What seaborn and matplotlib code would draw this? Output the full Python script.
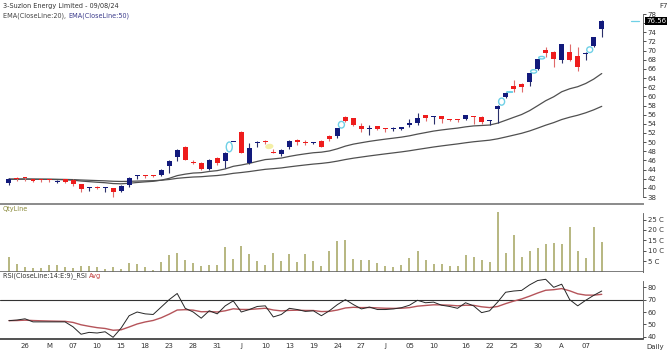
import numpy as np
import pandas as pd
import seaborn as sns
import matplotlib.pyplot as plt
from matplotlib.patches import Ellipse

# trading sessions shown (Apr 24 - Aug 9, 2024)
days_apr = [24, 25, 26, 29, 30]
days_may = [2, 3, 6, 7, 8, 9, 10, 13, 14, 15, 16, 17, 18, 21, 22, 23, 24, 27, 28, 29, 30, 31]
days_jun = [3, 4, 5, 6, 7, 10, 11, 12, 13, 14, 18, 19, 20, 21, 24, 25, 26, 27, 28]
days_jul = [1, 2, 3, 4, 5, 8, 9, 10, 11, 12, 15, 16, 18, 19, 22, 23, 24, 25, 26, 29, 30, 31]
days_aug = [1, 2, 5, 6, 7, 8, 9]

opens = [41.0, 42.0, 42.3, 41.9, 41.8, 41.8, 41.3, 41.9, 41.8, 40.8,
         40.0, 40.1, 40.05, 39.9, 39.4, 40.6, 42.7, 42.7, 42.7, 42.8,
         44.8, 46.7, 49.0, 45.6, 45.5, 44.1, 46.5, 45.9, 50.0, 52.3,
         45.4, 49.8, 50.1, 47.8, 47.5, 48.9, 50.5, 50.0, 49.8, 50.3,
         51.3, 51.3, 55.4, 55.2, 53.6, 52.9, 53.5, 53.0, 52.8, 52.9,
         53.7, 54.2, 55.9, 55.5, 55.7, 55.0, 55.0, 55.0, 55.6, 55.4,
         54.6, 57.2, 59.8, 62.3, 62.7, 63.2, 65.9, 70.1, 69.8, 67.9,
         69.8, 68.8, 69.2, 71.0, 74.7]
highs = [42.1, 42.4, 42.4, 42.0, 41.9, 41.9, 41.7, 42.0, 41.9, 40.9,
         40.2, 40.3, 40.2, 40.0, 40.6, 42.4, 42.9, 42.8, 42.9, 44.2,
         46.0, 48.5, 49.1, 46.1, 45.7, 46.2, 46.8, 47.9, 50.1, 52.4,
         49.9, 50.2, 50.4, 48.6, 48.6, 50.4, 50.6, 50.5, 50.1, 50.4,
         51.5, 53.1, 55.6, 55.3, 54.1, 53.7, 53.6, 53.1, 53.2, 53.4,
         55.1, 56.3, 56.0, 55.6, 55.8, 55.1, 55.1, 56.0, 55.7, 55.6,
         54.8, 58.1, 60.9, 63.6, 62.9, 65.1, 68.2, 70.85, 70.0, 71.5,
         71.4, 70.8, 69.6, 73.0, 76.6]
lows = [40.6, 41.6, 41.4, 41.3, 41.2, 41.2, 41.0, 41.1, 40.4, 39.2,
        39.3, 39.7, 39.2, 38.1, 39.2, 40.1, 42.0, 42.2, 42.4, 42.5,
        43.2, 45.8, 46.0, 45.2, 43.8, 43.9, 45.0, 44.3, 50.0, 47.6,
        45.3, 49.0, 49.5, 47.6, 47.0, 48.5, 49.4, 49.3, 49.5, 48.9,
        50.2, 51.0, 54.5, 53.5, 52.3, 51.6, 52.6, 52.3, 52.4, 52.7,
        53.3, 53.7, 54.7, 54.0, 54.1, 54.6, 54.5, 54.8, 54.0, 54.0,
        53.7, 54.1, 59.6, 61.0, 61.0, 62.3, 65.8, 68.7, 66.35, 67.2,
        67.7, 65.6, 67.9, 70.8, 72.9]
closes = [41.9, 41.9, 42.2, 41.6, 41.7, 41.7, 41.4, 41.3, 40.8, 39.7,
          40.1, 40.0, 40.1, 39.2, 40.4, 42.1, 42.8, 42.6, 42.6, 44.0,
          45.9, 48.3, 46.1, 45.5, 44.1, 46.1, 45.5, 47.7, 50.1, 47.7,
          48.7, 49.9, 50.0, 47.7, 48.3, 50.3, 50.1, 49.9, 49.9, 49.0,
          50.6, 53.0, 54.7, 53.7, 52.8, 53.0, 52.8, 52.9, 52.9, 53.2,
          54.1, 55.3, 55.2, 55.55, 55.0, 54.9, 54.9, 55.9, 55.5, 54.5,
          54.7, 58.0, 60.7, 61.5, 62.0, 65.0, 68.1, 69.4, 68.1, 71.4,
          67.9, 66.4, 69.5, 72.9, 76.56]

# traded quantity, crores
qty_cr = [6.9, 3.4, 2.4, 1.8, 1.8, 3.2, 3.2, 2.4, 1.8, 2.7,
          2.7, 2.1, 1.4, 2.4, 1.4, 4.3, 3.8, 2.2, 0.6, 4.5,
          8.0, 9.0, 5.3, 4.0, 2.6, 3.2, 3.2, 11.7, 6.2, 12.5,
          8.2, 5.0, 3.2, 9.0, 5.0, 8.6, 4.8, 8.5, 5.0, 2.6,
          9.9, 14.6, 15.0, 6.2, 5.3, 5.3, 4.0, 2.6, 2.4, 3.0,
          6.4, 9.9, 5.6, 3.4, 3.7, 2.7, 2.7, 7.7, 6.9, 5.3,
          4.8, 28.5, 9.1, 17.4, 6.9, 9.9, 11.5, 13.4, 13.6, 13.4,
          21.3, 10.1, 6.6, 21.6, 14.4]

rsi = [53, 53.5, 54.5, 52, 52, 52, 52, 52, 48, 42,
       43.5, 43, 44, 39.5, 47, 57, 60, 58.5, 58, 64,
       70, 75, 63, 60, 55, 61, 58.5, 65, 69, 60,
       62, 64.5, 65, 56, 58, 63, 62, 60.5, 61, 57,
       61, 66, 70, 66, 62.5, 64, 62, 62, 62.5, 63.5,
       65.5, 69.5, 67.5, 68, 65.5, 64.5, 63, 67.5, 65, 59.5,
       61, 68, 76, 77, 77.5, 82, 85.5, 86.5, 80, 82.5,
       70, 65, 69.5, 73.5, 77]

tick_labels = ["26", "M", "07", "10", "15", "18", "23", "28", "31", "J", "10", "13",
               "19", "24", "27", "J", "05", "10", "16", "22", "25", "30", "A", "07"]
tick_dates = ["2024-04-26", "2024-05-02", "2024-05-07", "2024-05-10", "2024-05-15",
              "2024-05-18", "2024-05-23", "2024-05-28", "2024-05-31", "2024-06-05",
              "2024-06-10", "2024-06-13", "2024-06-19", "2024-06-24", "2024-06-27",
              "2024-07-02", "2024-07-05", "2024-07-10", "2024-07-16", "2024-07-22",
              "2024-07-25", "2024-07-30", "2024-08-02", "2024-08-07"]

UP = "#121a7c"
DOWN = "#ee1c1c"
QTY = "#a3a35e"

sns.set_theme(style="white")
plt.rcParams['font.family'] = ['DejaVu Sans']

dates = pd.to_datetime(
    [f"2024-{m:02d}-{d:02d}" for m, days in
     ((4, days_apr), (5, days_may), (6, days_jun), (7, days_jul), (8, days_aug))
     for d in days])
df = pd.DataFrame({"date": dates, "open": opens, "high": highs, "low": lows,
                   "close": closes, "qty": qty_cr, "rsi": rsi})
df["i"] = np.arange(len(df))
df["ema20"] = df["close"].ewm(span=20, adjust=False).mean()
df["ema50"] = df["close"].ewm(span=50, adjust=False).mean()
df["rsi_avg"] = df["rsi"].ewm(span=9, adjust=False).mean()

W, H = 672, 352
fig = plt.figure(figsize=(W / 100, H / 100), dpi=100)


def panel(top, bottom):
    return fig.add_axes([0, 1 - bottom / H, 643 / W, (bottom - top) / H])


ax = panel(4, 204)
axv = panel(205, 271.5)
axr = panel(272, 339)

xlim = (-1.12, 79.15)
for a in (ax, axv, axr):
    a.set_xlim(*xlim)
    a.set_facecolor("white")
    for s in ("top", "left"):
        a.spines[s].set_visible(False)
    a.yaxis.tick_right()
    a.tick_params(axis="y", length=2.5, width=0.6, pad=1, labelsize=5,
                  colors="#333333", direction="out")
    a.spines["right"].set_color("#555555")
    a.spines["right"].set_linewidth(0.6)

# ---- price panel
for r in df.itertuples():
    c = UP if r.close >= r.open else DOWN
    wick = "#2a2f6a" if r.close >= r.open else "#e06a6a"
    ax.vlines(r.i, r.low, r.high, color=wick, lw=0.8, zorder=2)
    body = max(abs(r.close - r.open), 0.18)
    ax.bar(r.i, body, bottom=min(r.open, r.close), width=0.62, color=c,
           lw=0, zorder=3)

# gap markers
for k in range(len(df) - 1):
    h0, l1 = df["high"][k], df["low"][k + 1]
    l0, h1 = df["low"][k], df["high"][k + 1]
    if l1 > h0:
        ax.add_patch(Ellipse((k + 0.5, (h0 + l1) / 2), 0.75, l1 - h0 + 0.05,
                             fc="none", ec="#6fd0e6", lw=1.0, zorder=4))
    elif h1 < l0:
        ax.add_patch(Ellipse((k + 0.5, (l0 + h1) / 2), 1.0, l0 - h1 + 0.3,
                             angle=-20, fc="#f4efa6", ec="none", zorder=1))

sns.lineplot(data=df, x="i", y="ema20", ax=ax, color="#505050", lw=0.9, zorder=1)
sns.lineplot(data=df, x="i", y="ema50", ax=ax, color="#505050", lw=0.9, zorder=1)

price_ticks = np.arange(38, 79, 2)
last = df["close"].iloc[-1]
ax.set_ylim(36.47, 80.19)
ax.set_yticks(price_ticks)
# the last-price box covers the nearest tick label
ax.set_yticklabels(["" if abs(v - last) < 1 else f"{v}" for v in price_ticks])
ax.spines["right"].set_bounds(38, 78)
ax.spines["bottom"].set_color("#8a8a8a")
ax.spines["bottom"].set_linewidth(1.4)
ax.set_xticks([])
ax.set_xlabel("")
ax.set_ylabel("")

ax.plot([77.6, 78.6], [last, last], color="#6fd0e6", lw=0.9, clip_on=False)
ax.annotate(f"{last:.2f}", xy=(1.005, last), xycoords=("axes fraction", "data"),
            ha="left", va="center", fontsize=5, color="white", zorder=6,
            bbox=dict(boxstyle="square,pad=0.15", fc="black", ec="none"))

fig.text(3 / W, 1 - 6 / H, "3-Suzlon Energy Limited - 09/08/24", fontsize=4.7,
         color="#333333", va="center", ha="left")
t2 = fig.text(3 / W, 1 - 16 / H, "EMA(CloseLine:20), ", fontsize=4.7,
              color="#444444", va="center", ha="left")
ax.annotate("EMA(CloseLine:50)", xy=(1, 0.5), xycoords=t2, va="center", ha="left",
            fontsize=4.7, color="#3c3c8c")
fig.text(664 / W, 1 - 6 / H, "F7", fontsize=5, color="#333333", va="center", ha="center")

# ---- quantity panel
axv.vlines(df["i"], 0, df["qty"], color=QTY, lw=1.1)
axv.set_ylim(0, 32)
axv.set_yticks([5, 10, 15, 20, 25])
axv.set_yticklabels([f"{v} C" for v in [5, 10, 15, 20, 25]])
axv.spines["right"].set_bounds(0, 28)
axv.spines["bottom"].set_color("#666666")
axv.spines["bottom"].set_linewidth(1.2)
axv.set_xticks([])
fig.text(3 / W, 1 - 209 / H, "QtyLine", fontsize=4.7, color="#8c8c3c", va="center", ha="left")

# ---- RSI panel
axr.axhline(70, color="#333333", lw=0.8, zorder=1)
sns.lineplot(data=df, x="i", y="rsi_avg", ax=axr, color="#b5545a", lw=1.0, zorder=2)
sns.lineplot(data=df, x="i", y="rsi", ax=axr, color="#262626", lw=0.7, zorder=3)
axr.set_ylim(38.14, 92.4)
axr.set_yticks([40, 50, 60, 70, 80])
axr.spines["right"].set_bounds(38.6, 85)
axr.spines["bottom"].set_color("#333333")
axr.spines["bottom"].set_linewidth(1.2)
axr.set_ylabel("")
axr.set_xlabel("")
pos = [int(np.flatnonzero(df["date"] == pd.Timestamp(d))[0]) for d in tick_dates]
axr.set_xticks(pos)
axr.set_xticklabels(tick_labels)
axr.tick_params(axis="x", length=0, pad=3, labelsize=5, colors="#333333")
t3 = fig.text(3 / W, 1 - 276 / H, "RSI(CloseLine:14:E:9)_RSI ", fontsize=4.7,
              color="#333333", va="center", ha="left")
axr.annotate("Avg", xy=(1, 0.5), xycoords=t3, va="center", ha="left",
             fontsize=4.7, color="#c03a3a")
fig.text(655 / W, 1 - 347 / H, "Daily", fontsize=5, color="#333333", va="center", ha="center")

fig.savefig("out.png", dpi=100)
plt.close(fig)
